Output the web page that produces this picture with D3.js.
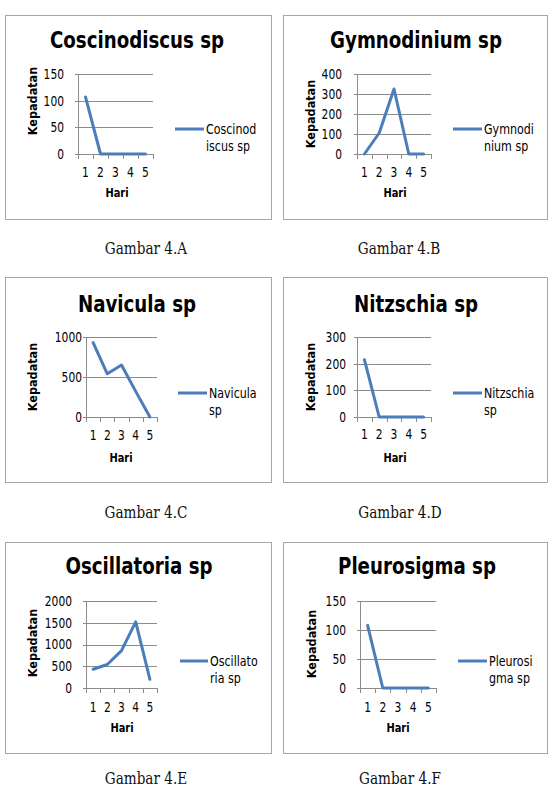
<!doctype html>
<html>
<head>
<meta charset="utf-8" />
<title>Kepadatan fitoplankton – Gambar 4.A–4.F</title>
<script src="https://cdn.jsdelivr.net/npm/d3@7"></script>
<style>
  html,body{margin:0;background:#fff}
  svg{display:block}
  .chart text{font-family:"DejaVu Sans Condensed","DejaVu Sans",sans-serif;font-stretch:condensed;fill:#000}
  .title{font-size:23px;font-weight:bold;text-anchor:middle}
  .axis-title{font-size:12.5px;font-weight:bold;text-anchor:middle}
  .tick-label{font-size:13.5px;fill:#111}
  .legend-text{font-size:14px;fill:#111}
  .caption{font-family:"DejaVu Serif Condensed","DejaVu Serif",serif;font-stretch:condensed;
           font-size:17px;text-anchor:middle;fill:#111}
  .grid{stroke:#8c8c8c;stroke-width:1}
  .frame{fill:#fff;stroke:#a6a6a6;stroke-width:1}
  .series{fill:none;stroke:#4a7ebb;stroke-width:3;stroke-linejoin:round;stroke-linecap:round}
</style>
</head>
<body>
<svg id="page" width="557" height="789"></svg>

<script>
// ─────────────  DATA  ─────────────
const days = ["1", "2", "3", "4", "5"];
const titles = ["Coscinodiscus sp", "Gymnodinium sp", "Navicula sp",
                "Nitzschia sp", "Oscillatoria sp", "Pleurosigma sp"];

const coscinodiscus = [107, 0, 0, 0, 0];
const gymnodinium   = [0, 105, 325, 0, 0];
const navicula      = [930, 540, 650, 320, 0];
const nitzschia     = [215, 0, 0, 0, 0];
const oscillatoria  = [430, 540, 860, 1520, 200];
const pleurosigma   = [108, 0, 0, 0, 0];

const yTicks = [
  [0, 50, 100, 150],
  [0, 100, 200, 300, 400],
  [0, 500, 1000],
  [0, 100, 200, 300],
  [0, 500, 1000, 1500, 2000],
  [0, 50, 100, 150]
];

const legendLines = [
  ["Coscinod", "iscus sp"],
  ["Gymnodi", "nium sp"],
  ["Navicula", "sp"],
  ["Nitzschia", "sp"],
  ["Oscillato", "ria sp"],
  ["Pleurosi", "gma sp"]
];

const captions = ["Gambar 4.A", "Gambar 4.B", "Gambar 4.C",
                  "Gambar 4.D", "Gambar 4.E", "Gambar 4.F"];

const yLabel = "Kepadatan";
const xLabel = "Hari";

const seriesList = [coscinodiscus, gymnodinium, navicula, nitzschia, oscillatoria, pleurosigma];

// ─────────────  LAYOUT (pixel positions of each panel)  ─────────────
const layout = [
  {box:[5,15,271,219],  plot:[78,153,74,154],  title:[137,48],  ylab:[32,101],  xlab:[117,197], tickY:177, tickR:64,
   leg:{x1:175,x2:204,y:129,tx:206}, cap:[146,254]},
  {box:[283,15,547,219],plot:[357,431,74,154], title:[416,48],  ylab:[310,114], xlab:[395,197], tickY:177, tickR:342,
   leg:{x1:453,x2:482,y:129,tx:484}, cap:[399,254]},
  {box:[5,277,271,482], plot:[86,157,337,417], title:[137,312], ylab:[32,377],  xlab:[121,462], tickY:440, tickR:82,
   leg:{x1:178,x2:207,y:393,tx:209}, cap:[146,518]},
  {box:[283,277,547,482],plot:[357,431,337,417],title:[416,312],ylab:[310,377], xlab:[395,462], tickY:439, tickR:346,
   leg:{x1:453,x2:482,y:393,tx:484}, cap:[400,518]},
  {box:[5,542,271,753], plot:[86,157,601,688], title:[139,574], ylab:[32,643],  xlab:[122,732], tickY:712, tickR:72,
   leg:{x1:180,x2:208,y:661,tx:210}, cap:[146,784]},
  {box:[283,542,547,753],plot:[360,436,601,688],title:[417,574],ylab:[311,644], xlab:[398,732], tickY:712, tickR:346,
   leg:{x1:458,x2:487,y:661,tx:489}, cap:[400,784]}
];

const SX = 0.88;       // horizontal squeeze of the chart lettering
const svg = d3.select("#page");

// place a text by transform so it can be squeezed horizontally
const at = (x, y, sx = SX, rot = 0) =>
  `translate(${x},${y})${rot ? ` rotate(${rot})` : ""} scale(${sx},1)`;

seriesList.forEach((values, i) => {
  const L = layout[i];
  const [bx0, by0, bx1, by1] = L.box;
  const [px0, px1, pyTop, py0] = L.plot;
  const ticks = yTicks[i];

  const g = svg.append("g").attr("class", "chart");

  // chart frame
  g.append("rect").attr("class", "frame")
    .attr("x", bx0 + 0.5).attr("y", by0 + 0.5)
    .attr("width", bx1 - bx0).attr("height", by1 - by0);

  // scales
  const x = d3.scaleBand().domain(days).range([px0, px1]).padding(0);
  const y = d3.scaleLinear().domain([0, d3.max(ticks)]).range([py0, pyTop]);

  // gridlines (with small outside tick on the left)
  g.selectAll(".grid-h").data(ticks).join("line")
    .attr("class", "grid")
    .attr("x1", px0 - 3).attr("x2", px1)
    .attr("y1", d => Math.round(y(d)) + 0.5).attr("y2", d => Math.round(y(d)) + 0.5);

  // y axis line
  g.append("line").attr("class", "grid")
    .attr("x1", px0 + 0.5).attr("x2", px0 + 0.5)
    .attr("y1", pyTop).attr("y2", py0);

  // x ticks at band boundaries
  const bounds = days.map(d => x(d)).concat([px1]);
  g.selectAll(".xt").data(bounds).join("line")
    .attr("class", "grid")
    .attr("x1", d => Math.round(d) + 0.5).attr("x2", d => Math.round(d) + 0.5)
    .attr("y1", py0).attr("y2", py0 + 5);

  // y tick labels
  g.selectAll(".ytl").data(ticks).join("text")
    .attr("class", "tick-label")
    .attr("transform", d => at(L.tickR, y(d)))
    .attr("dy", "0.36em").attr("text-anchor", "end")
    .text(d => d);

  // x tick labels
  g.selectAll(".xtl").data(days).join("text")
    .attr("class", "tick-label")
    .attr("transform", d => at(x(d) + x.bandwidth() / 2, L.tickY))
    .attr("text-anchor", "middle")
    .text(d => d);

  // series line
  const line = d3.line()
    .x((d, k) => x(days[k]) + x.bandwidth() / 2)
    .y(d => y(d));
  g.append("path").attr("class", "series").attr("d", line(values));

  // titles
  g.append("text").attr("class", "title")
    .attr("transform", at(L.title[0], L.title[1])).text(titles[i]);
  g.append("text").attr("class", "axis-title")
    .attr("transform", at(L.xlab[0], L.xlab[1])).text(xLabel);
  g.append("text").attr("class", "axis-title")
    .attr("transform", at(L.ylab[0], L.ylab[1], 1, -90))
    .attr("dy", "0.36em").text(yLabel);

  // legend
  g.append("line").attr("class", "series")
    .attr("x1", L.leg.x1).attr("x2", L.leg.x2)
    .attr("y1", L.leg.y).attr("y2", L.leg.y)
    .style("stroke-linecap", "butt");
  g.selectAll(".lt").data(legendLines[i]).join("text")
    .attr("class", "legend-text")
    .attr("transform", (d, k) => at(L.leg.tx, L.leg.y + 5 + k * 17))
    .text(d => d);

  // caption under the panel
  svg.append("text").attr("class", "caption")
    .attr("transform", at(L.cap[0], L.cap[1], 0.89))
    .text(captions[i]);
});
</script>
</body>
</html>
